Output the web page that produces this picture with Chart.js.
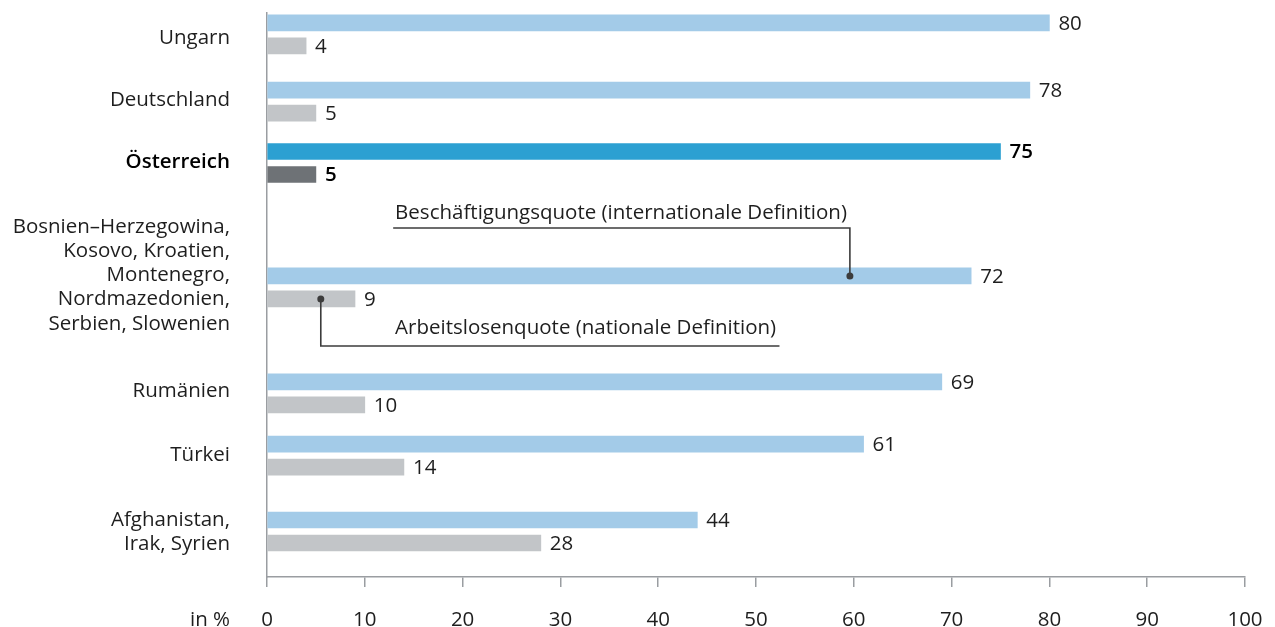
<!DOCTYPE html>
<html>
<head>
<meta charset="utf-8">
<script src="https://cdn.jsdelivr.net/npm/chart.js@4.4.1/dist/chart.umd.min.js"></script>
<style>
  html, body { margin: 0; padding: 0; background: #ffffff; }
  #wrap { width: 1275px; height: 627px; position: relative; }
</style>
</head>
<body>
<div id="wrap"><canvas id="c"></canvas></div>
<script>
// Herkunftsländer / -gruppen
const categories = [
  ['Ungarn'],
  ['Deutschland'],
  ['Österreich'],
  ['Bosnien–Herzegowina,', 'Kosovo, Kroatien,', 'Montenegro,', 'Nordmazedonien,', 'Serbien, Slowenien'],
  ['Rumänien'],
  ['Türkei'],
  ['Afghanistan,', 'Irak, Syrien']
];
// Beschäftigungsquote (internationale Definition), in %
const employment = [80, 78, 75, 72, 69, 61, 44];
// Arbeitslosenquote (nationale Definition), in %
const unemployment = [4, 5, 5, 9, 10, 14, 28];
// x-axis ticks
const xTicks = [0, 10, 20, 30, 40, 50, 60, 70, 80, 90, 100];
const xLabelPrefix = 'in %';
const noteEmployment = 'Beschäftigungsquote (internationale Definition)';
const noteUnemployment = 'Arbeitslosenquote (nationale Definition)';

// Row layout along the category axis (row units, top = 0)
const rowPos = [0.93, 3.85, 6.52, 11.93, 16.54, 19.24, 22.54];
const labelPos = [1.09, 3.78, 6.48, 11.41, 16.43, 19.22, 22.57];
const rowMax = 24.52;
const pairOffset = 0.5;
const highlight = 2;

const FONT = '"Open Sans", "Noto Sans", sans-serif';
const FSIZE = 20.5;
const TEXT = '#1e1e1e';
const AXIS = '#9a9da1';

const empColors = employment.map((_, i) => i === highlight ? '#2ca0d2' : '#a3cbe8');
const unempColors = unemployment.map((_, i) => i === highlight ? '#6e7276' : '#c2c5c8');

const empData = employment.map((v, i) => ({ x: v, y: rowPos[i] - pairOffset }));
const unempData = unemployment.map((v, i) => ({ x: v, y: rowPos[i] + pairOffset }));

const decorations = {
  id: 'decorations',
  afterDatasetsDraw(chart) {
    const { ctx, scales: { x, y } } = chart;
    ctx.save();
    // value labels at the bar ends
    chart.data.datasets.forEach((ds) => {
      ds.data.forEach((pt, i) => {
        const bold = i === highlight;
        ctx.font = (bold ? '600 ' : '400 ') + FSIZE + 'px ' + FONT;
        ctx.fillStyle = bold ? '#000000' : TEXT;
        ctx.textAlign = 'left';
        ctx.textBaseline = 'middle';
        ctx.fillText(String(pt.x), x.getPixelForValue(pt.x) + 9, y.getPixelForValue(pt.y) + 1);
      });
    });

    // leader lines explaining the two series
    ctx.strokeStyle = '#3c3c3c';
    ctx.fillStyle = '#3c3c3c';
    ctx.lineWidth = 1.6;
    const dot = (px, py) => { ctx.beginPath(); ctx.arc(px, py, 3.5, 0, Math.PI * 2); ctx.fill(); };

    const eDotX = x.getPixelForValue(59.6), eDotY = y.getPixelForValue(rowPos[3] - pairOffset);
    const eLineY = y.getPixelForValue(9.35);
    ctx.beginPath();
    ctx.moveTo(x.getPixelForValue(12.9), eLineY);
    ctx.lineTo(eDotX, eLineY);
    ctx.lineTo(eDotX, eDotY);
    ctx.stroke();
    dot(eDotX, eDotY);

    const uDotX = x.getPixelForValue(5.5), uDotY = y.getPixelForValue(rowPos[3] + pairOffset);
    const uLineY = y.getPixelForValue(14.48);
    ctx.beginPath();
    ctx.moveTo(uDotX, uDotY);
    ctx.lineTo(uDotX, uLineY);
    ctx.lineTo(x.getPixelForValue(52.4), uLineY);
    ctx.stroke();
    dot(uDotX, uDotY);

    ctx.font = '400 ' + FSIZE + 'px ' + FONT;
    ctx.fillStyle = TEXT;
    ctx.textAlign = 'left';
    ctx.textBaseline = 'middle';
    ctx.fillText(noteEmployment, x.getPixelForValue(13.1), y.getPixelForValue(8.70));
    ctx.fillText(noteUnemployment, x.getPixelForValue(13.1), y.getPixelForValue(13.70));

    // unit label in front of the x-axis ticks
    ctx.textAlign = 'right';
    ctx.fillText(xLabelPrefix, y.right - 37, x.bottom - 7);
    ctx.restore();
  }
};

new Chart(document.getElementById('c'), {
  type: 'bar',
  data: {
    datasets: [
      { label: 'Beschäftigungsquote', data: empData, backgroundColor: empColors },
      { label: 'Arbeitslosenquote', data: unempData, backgroundColor: unempColors }
    ]
  },
  options: {
    indexAxis: 'y',
    responsive: true,
    maintainAspectRatio: false,
    animation: false,
    layout: { padding: { top: 13, right: 30, bottom: 0, left: 0 } },
    datasets: { bar: { grouped: false, barThickness: 16, borderWidth: 0 } },
    plugins: { legend: { display: false }, tooltip: { enabled: false } },
    scales: {
      x: {
        type: 'linear',
        min: 0,
        max: 100,
        offset: false,
        afterBuildTicks(scale) { scale.ticks = xTicks.map(v => ({ value: v })); },
        afterFit(scale) {
          scale.height = 50;
          scale.paddingLeft = 0; scale.paddingRight = 0;
        },
        grid: { drawOnChartArea: false, drawTicks: true, tickLength: 10, color: AXIS, lineWidth: 1.5 },
        border: { display: true, color: AXIS, width: 1.5 },
        ticks: { color: TEXT, padding: 21, font: { family: FONT, size: FSIZE }, maxRotation: 0 }
      },
      y: {
        type: 'linear',
        reverse: true,
        min: 0,
        max: rowMax,
        offset: false,
        afterBuildTicks(scale) { scale.ticks = labelPos.map(v => ({ value: v })); },
        afterFit(scale) {
          scale.width = 267;
          scale.paddingTop = 0; scale.paddingBottom = 0;
        },
        grid: { display: false, drawTicks: false },
        border: { display: true, color: AXIS, width: 1.5 },
        ticks: {
          autoSkip: false,
          padding: 37,
          callback: (value, index) => categories[index],
          color: (c) => c.index === highlight ? '#000000' : TEXT,
          font: (c) => ({ family: FONT, size: FSIZE, weight: c.index === highlight ? '600' : '400', lineHeight: 1.18 })
        }
      }
    }
  },
  plugins: [decorations]
});
</script>
</body>
</html>
